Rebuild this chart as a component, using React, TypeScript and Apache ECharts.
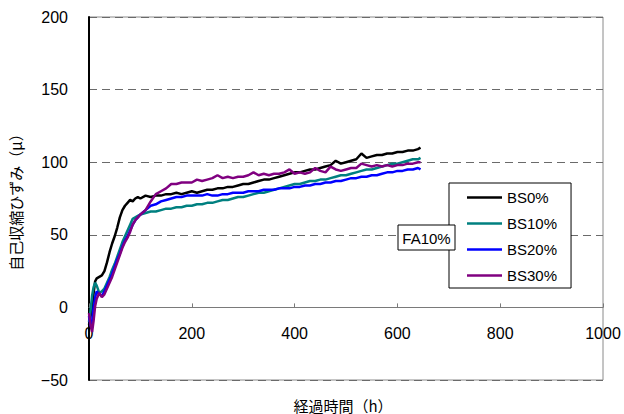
import React, { useEffect, useRef } from "react";
import * as echarts from "echarts";

// Elapsed time (h) shared by all four records
const hours = [
  0, 3, 6, 9, 12, 15, 20, 25, 30, 35, 40, 45, 50, 55, 60, 65, 70, 75, 80, 85, 90, 95, 100,
  110, 120, 130, 140, 150, 160, 170, 180, 190, 200, 210, 220, 230, 240, 250, 260, 270, 280,
  290, 300, 310, 320, 330, 340, 350, 360, 370, 380, 390, 400, 410, 420, 430, 440, 450, 460,
  470, 480, 490, 500, 510, 520, 530, 540, 550, 560, 570, 580, 590, 600, 610, 620, 630, 640,
  645,
];

// Autogenous shrinkage strain (μ)
const bs0 = [
  -12, -6, -1, 10, 18, 20, 21, 22, 25, 31, 38, 44, 49, 55, 62, 67, 70, 72, 74, 73, 75, 76, 75,
  77, 76, 77, 77, 78, 78, 79, 78, 79, 80, 79, 80, 81, 81, 82, 82, 83, 83, 84, 85, 85, 86, 87,
  88, 88, 89, 90, 91, 92, 93, 93, 94, 95, 95, 96, 97, 98, 101, 99, 100, 101, 102, 106, 103,
  104, 105, 105, 106, 106, 107, 107, 108, 108, 109,
  110,
];
const bs10 = [
  -10, -2, 8, 14, 17, 15, 10, 11, 13, 17, 21, 26, 30, 35, 40, 45, 49, 53, 57, 61, 62, 63, 64,
  65, 66, 66, 67, 68, 68, 69, 69, 70, 70, 71, 71, 72, 72, 73, 74, 74, 75, 76, 76, 77, 78, 79,
  79, 80, 81, 82, 83, 84, 85, 85, 86, 87, 87, 88, 88, 89, 90, 91, 91, 92, 93, 94, 95, 95, 96,
  97, 98, 99, 99, 100, 101, 102, 102,
  103,
];
const bs20 = [
  -6, -13, -10, 0, 7, 11, 9, 8, 11, 15, 19, 23, 28, 33, 37, 42, 46, 49, 53, 57, 60, 62, 64,
  67, 70, 71, 73, 74, 75, 76, 76, 77, 77, 77, 77, 78, 77, 77, 78, 78, 79, 79, 79, 80, 80, 80,
  81, 81, 81, 82, 82, 82, 83, 83, 84, 84, 85, 85, 86, 86, 87, 87, 88, 89, 89, 90, 90, 91, 91,
  92, 93, 93, 94, 94, 95, 95, 96,
  95,
];
const bs30 = [
  -4, -12, -17, -9, 1, 6, 10, 7, 9, 13, 17, 21, 26, 31, 36, 41, 45, 48, 52, 57, 60, 62, 64,
  67, 73, 78, 80, 82, 85, 85, 86, 86, 86, 88, 87, 88, 89, 91, 89, 90, 89, 90, 90, 91, 93, 91,
  92, 91, 92, 92, 93, 95, 92, 93, 92, 93, 96, 94, 93, 97, 95, 94, 95, 96, 96, 99, 98, 97, 98,
  97, 98, 97, 98, 98, 99, 99, 100,
  100,
];

const seriesNames = ["BS0%", "BS10%", "BS20%", "BS30%"];
const seriesColors = ["#000000", "#008080", "#0000ff", "#800080"];
const seriesValues = [bs0, bs10, bs20, bs30];

const xTitle = "経過時間（h）";
const yTitle = "自己収縮ひずみ（μ）";
const boxLabel = "FA10%";

const numFont = "'Liberation Sans', Arial, sans-serif";
const jpFont = "'Noto Sans CJK JP', sans-serif";

const Y_MIN = -50;
const Y_MAX = 200;
const PLOT_HEIGHT = 363;

export default function App() {
  const ref = useRef<HTMLDivElement>(null);

  useEffect(() => {
    if (!ref.current) return;
    const chart = echarts.init(ref.current, null, { renderer: "svg" });

    const series = seriesNames.map((name, k) => ({
      name,
      type: "line",
      data: hours.map((h, i) => [h, seriesValues[k][i]]),
      symbol: "none",
      showSymbol: false,
      lineStyle: { color: seriesColors[k], width: 2.5 },
      itemStyle: { color: seriesColors[k] },
      z: 2 + k,
    }));

    // lift the time axis from the bottom edge up to the zero line
    const zeroLift = (PLOT_HEIGHT * (0 - Y_MIN)) / (Y_MAX - Y_MIN);

    chart.setOption({
      animation: false,
      backgroundColor: "#ffffff",
      grid: {
        left: 83,
        top: 17,
        width: 520,
        height: PLOT_HEIGHT,
        show: true,
        borderColor: "#8a8a8a",
        borderWidth: 1,
      },
      xAxis: {
        type: "value",
        position: "bottom",
        offset: -zeroLift,
        min: 0,
        max: 1000,
        interval: 200,
        axisLine: { show: true, onZero: false, lineStyle: { color: "#7a7a7a", width: 1 } },
        axisTick: { show: true, inside: true, length: 4, lineStyle: { color: "#7a7a7a" } },
        axisLabel: {
          margin: 18,
          fontSize: 16,
          color: "#000",
          fontFamily: numFont,
          formatter: (v: number) => String(v),
        },
        splitLine: { show: false },
      },
      yAxis: {
        type: "value",
        min: Y_MIN,
        max: Y_MAX,
        interval: 50,
        name: yTitle,
        nameLocation: "middle",
        nameGap: 66,
        nameRotate: 90,
        nameTextStyle: { fontSize: 15, color: "#000", fontFamily: jpFont },
        axisLine: { show: true, onZero: false, lineStyle: { color: "#000", width: 2 } },
        axisTick: { show: false },
        axisLabel: {
          margin: 21,
          fontSize: 16,
          color: "#000",
          fontFamily: numFont,
          formatter: (v: number) => (v < 0 ? "−" + Math.abs(v) : String(v)),
        },
        splitLine: { show: true, lineStyle: { color: "#6a6a6a", width: 1, type: [8, 5] } },
      },
      legend: {
        data: seriesNames,
        orient: "vertical",
        left: 449,
        top: 183,
        padding: [7, 14, 5, 18],
        itemGap: 11,
        itemWidth: 35,
        itemHeight: 2.5,
        icon: "rect",
        backgroundColor: "#ffffff",
        borderColor: "#000000",
        borderWidth: 1,
        textStyle: { fontSize: 15, lineHeight: 15, color: "#000", fontFamily: numFont },
      },
      graphic: [
        {
          type: "text",
          x: 343,
          y: 405,
          style: {
            text: xTitle,
            fontSize: 15,
            fontFamily: jpFont,
            fill: "#000",
            align: "center",
            verticalAlign: "middle",
          },
        },
        {
          type: "group",
          z: 100,
          children: [
            {
              type: "rect",
              z: 100,
              shape: { x: 398, y: 225, width: 57, height: 25 },
              style: { fill: "#ffffff", stroke: "#000000", lineWidth: 1 },
            },
            {
              type: "text",
              z: 101,
              x: 426.5,
              y: 238,
              style: {
                text: boxLabel,
                fontSize: 15,
                fontFamily: numFont,
                fill: "#000",
                align: "center",
                verticalAlign: "middle",
              },
            },
          ],
        },
      ],
      series,
    });

    return () => chart.dispose();
  }, []);

  return (
    <div
      ref={ref}
      style={{ position: "fixed", left: 0, top: 0, width: 624, height: 414, background: "#fff" }}
    />
  );
}
